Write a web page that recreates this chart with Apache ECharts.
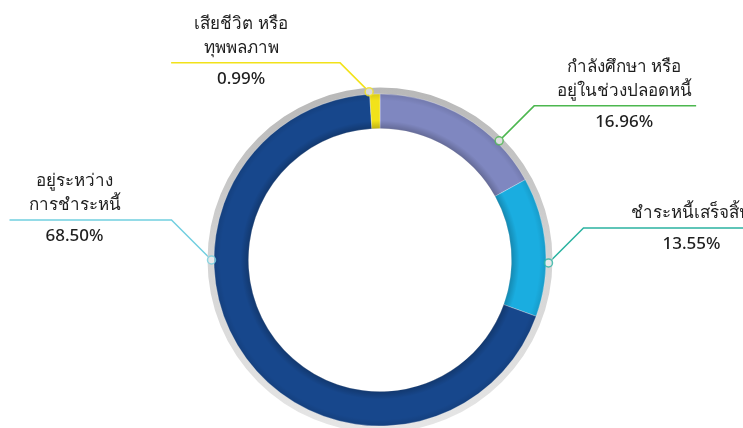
<!DOCTYPE html>
<html>
<head>
<meta charset="utf-8">
<script src="https://cdn.jsdelivr.net/npm/echarts@6/dist/echarts.min.js"></script>
<style>
html, body { margin: 0; padding: 0; background: #fff; }
#chart { width: 743px; height: 428px; }
</style>
</head>
<body>
<div id="chart"></div>
<script>
// data, in drawing order (clockwise from 12 o'clock)
var names = ['กำลังศึกษา หรือ\nอยู่ในช่วงปลอดหนี้', 'ชำระหนี้เสร็จสิ้น', 'อยู่ระหว่าง\nการชำระหนี้', 'เสียชีวิต หรือ\nทุพพลภาพ'];
var values = [16.96, 13.55, 68.50, 0.99];

// styles
var sliceColors = ['#7f87c0', '#1aade0', '#17478c', '#f2e21a'];
var lineColors = ['#4cb74f', '#2bb3a1', '#72cfe0', '#f2e21a'];

// leader placement: anchor angle (deg, clockwise from top) and segment sizes
var anchorAngle = [45, 91, 270, 356.3];
var diag = [35, 35, 40, 29];
var run = [162, 180, 162, 169];
var textOffset = [90, 108, 97, 99];

var cx = 380, cy = 260;

var myChart = echarts.init(document.getElementById('chart'));

var option = {
    animation: false,
    polar: {
        center: [cx, cy],
        radius: 168.5
    },
    angleAxis: {
        type: 'value',
        min: 0,
        max: 360,
        startAngle: 90,
        show: false
    },
    radiusAxis: {
        type: 'value',
        min: 0,
        max: 1,
        show: false
    },
    series: [
        {
            // grey outer rim
            type: 'pie',
            center: [cx, cy],
            radius: [150, 172.5],
            silent: true,
            label: {show: false},
            labelLine: {show: false},
            itemStyle: {
                color: {
                    type: 'linear', x: 0, y: 0, x2: 0, y2: 1,
                    colorStops: [
                        {offset: 0, color: '#b8b8b8'},
                        {offset: 0.5, color: '#d4d4d4'},
                        {offset: 1, color: '#e6e6e6'}
                    ]
                }
            },
            data: [1]
        },
        {
            type: 'pie',
            center: [cx, cy],
            radius: [131.5, 166],
            startAngle: 90,
            clockwise: true,
            silent: true,
            itemStyle: {
                borderColor: 'rgba(255,255,255,0.6)',
                borderWidth: 0.5
            },
            label: {
                show: true,
                position: 'outside',
                width: 160,
                formatter: function (p) {
                    return '{name|' + p.name + '}\n{per|' + p.value.toFixed(2) + '%}';
                },
                rich: {
                    name: {
                        fontFamily: 'Noto Sans, sans-serif',
                        fontSize: 17,
                        fontWeight: 500,
                        lineHeight: 24,
                        color: '#1f1f1f',
                        align: 'center'
                    },
                    per: {
                        fontFamily: 'Noto Sans, sans-serif',
                        fontSize: 17,
                        fontWeight: 500,
                        lineHeight: 39,
                        color: '#1f1f1f',
                        align: 'center'
                    }
                }
            },
            labelLine: {
                show: true,
                lineStyle: {width: 1.5}
            },
            labelLayout: function (p) {
                var i = p.dataIndex;
                var a = myChart.convertToPixel({polarIndex: 0}, [1, anchorAngle[i]]);
                if (!a) {
                    var rad = anchorAngle[i] * Math.PI / 180;
                    a = [cx + 168.5 * Math.sin(rad), cy - 168.5 * Math.cos(rad)];
                }
                var side = a[0] < cx ? -1 : 1;
                var bx = a[0] + side * diag[i];
                var by = a[1] - diag[i];
                var n = names[i].split('\n').length;
                return {
                    x: bx + side * textOffset[i],
                    y: by - 24 * n - 3,
                    align: 'center',
                    verticalAlign: 'top',
                    labelLinePoints: [a, [bx, by], [bx + side * run[i], by]]
                };
            },
            data: names.map(function (n, i) {
                return {
                    name: n,
                    value: values[i],
                    itemStyle: {color: sliceColors[i]},
                    labelLine: {lineStyle: {color: lineColors[i]}}
                };
            })
        },
        {
            // soft shading on the ring edges
            type: 'pie',
            center: [cx, cy],
            radius: [131.5, 166],
            silent: true,
            label: {show: false},
            labelLine: {show: false},
            itemStyle: {
                color: {
                    type: 'radial', x: 0.5, y: 0.5, r: 0.5,
                    colorStops: [
                        {offset: 0, color: 'rgba(0,0,0,0)'},
                        {offset: 0.79, color: 'rgba(0,0,0,0.22)'},
                        {offset: 0.84, color: 'rgba(0,0,0,0)'},
                        {offset: 0.96, color: 'rgba(0,0,0,0)'},
                        {offset: 1, color: 'rgba(0,0,0,0.1)'}
                    ]
                }
            },
            data: [1]
        },
        {
            // anchor dots of the leader lines
            type: 'scatter',
            coordinateSystem: 'polar',
            silent: true,
            symbol: 'circle',
            symbolSize: 8,
            z: 5,
            itemStyle: {
                color: 'rgba(255,255,255,0.6)',
                borderWidth: 1.5
            },
            data: anchorAngle.map(function (a, i) {
                return {value: [1, a], itemStyle: {borderColor: lineColors[i]}};
            })
        }
    ]
};

myChart.setOption(option);
</script>
</body>
</html>
